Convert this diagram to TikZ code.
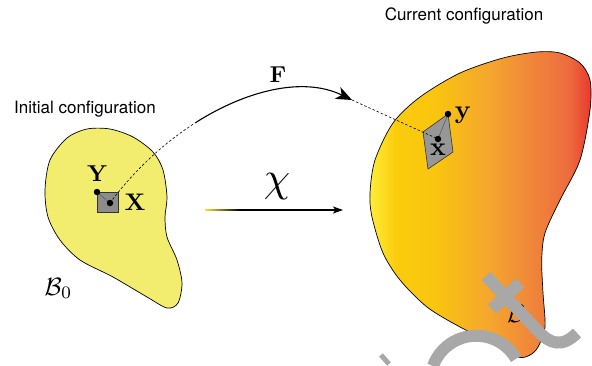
\documentclass[tikz,border=0pt]{standalone}
\usepackage{graphicx}
\usepackage[no-math]{fontspec}
\newfontfamily\helv{TeX Gyre Heros}
\usetikzlibrary{arrows.meta}
\pgfdeclarehorizontalshading{curshade}{100bp}{rgb(0bp)=(1,0.93,0.22); rgb(25bp)=(1,0.93,0.22); rgb(31bp)=(0.98,0.8,0.05); rgb(40bp)=(0.98,0.77,0.06); rgb(52bp)=(0.96,0.65,0.18); rgb(62bp)=(0.94,0.52,0.23); rgb(70bp)=(0.93,0.42,0.24); rgb(75bp)=(0.91,0.22,0.18); rgb(100bp)=(0.91,0.22,0.18)}
\definecolor{bodyA}{RGB}{242,237,110}
\definecolor{elemgray}{RGB}{140,140,140}
\definecolor{wmgray}{RGB}{168,168,168}
\definecolor{chiyellow}{RGB}{245,230,60}
\newcommand{\mysz}[2]{\scalebox{#1}{\fontsize{10}{12}\selectfont #2}}
\begin{document}
\begin{tikzpicture}[x=1pt,y=-1pt,
  outline/.style={draw=black, line width=0.7pt},
  elem/.style={fill=elemgray, draw=black!80, line width=0.6pt},
  dot/.style={circle, fill=black, inner sep=0pt, minimum size=6.5pt},
  lbl/.style={inner sep=0pt, anchor=base},
  conf/.style={font=\helv\fontsize{17}{20}\selectfont, inner sep=0pt, anchor=base},
  dashline/.style={line width=0.6pt, dash pattern=on 2.5pt off 2pt},
  link/.style={line width=0.4pt, draw=black!70},
  wm/.style={draw=wmgray, line width=12pt}]
\useasboundingbox (0,0) rectangle (592,365);

% reference body
\path[outline, fill=bodyA] plot[smooth cycle] coordinates {(45,190) (50,160) (67,138) (87,129) (110,129) (133,137) (153,152) (163,170) (167,197) (165,217) (167,237) (177,260) (182,283) (178,303) (167,308) (147,297) (113,277) (80,260) (60,240) (48,217)};

% current body
\path[outline, shading=curshade] plot[smooth cycle] coordinates {(370,193) (375,160) (393,123) (420,97) (460,73) (503,58) (537,52) (560,53) (580,63) (590,80) (590,110) (580,160) (560,200) (545,233) (541.7,260) (543,293) (545,327) (538,347) (530,355) (518,357) (493,343) (460,327) (427,307) (400,280) (383,253) (372,217)};

% coordinates
\coordinate (Yc) at (97,192);
\coordinate (Xc) at (110,203);
\coordinate (yc) at (448,114);
\coordinate (xc) at (438,139);
\coordinate (Fmid) at (195.3,122.8);
\coordinate (Ftip) at (352,100);
\coordinate (chiA) at (205,210);
\coordinate (chiB) at (240,210);
\coordinate (chiC) at (343,210);

% reference element
\path[elem] (97,192) rectangle (118,212);
\draw[link] (Yc) -- (Xc);

% current element
\path[elem, fill=elemgray!90!white] (448,114) -- (423,132) -- (428,169) -- (453,152) -- cycle;
\draw[link] (xc) -- (yc);

% F map
\draw[dashline] (Xc) .. controls (132,173) and (162,144.1) .. (Fmid);
\draw[line width=1.1pt, -{Stealth[length=16pt,width=13pt,inset=4.5pt]}] (Fmid) .. controls (245.3,90.9) and (302.8,76) .. (Ftip);
\draw[dashline] (Ftip) -- (xc);

% dots
\node[dot] (Yd) at (Yc) {};
\node[dot] (Xd) at (Xc) {};
\node[dot] (yd) at (yc) {};
\node[dot] (xd) at (xc) {};

% chi map
\shade[left color=chiyellow, right color=black] (205,209.4) rectangle (240,210.6);
\draw[line width=1.2pt, -{Stealth[length=10pt,width=7pt,inset=2.5pt]}] (chiB) -- (chiC);

% labels
\node[lbl] (Flbl) at (278,82.5) {\mysz{2.3}{$\mathbf{F}$}};
\node[lbl] (chilbl) at (277,191) {\mysz{4.2}{$\chi$}};
\node[lbl] (Ylbl) at (97.5,181.5) {\mysz{2.3}{$\mathbf{Y}$}};
\node[lbl] (Xlbl) at (135,210) {\mysz{2.4}{$\mathbf{X}$}};
\node[lbl] (ylbl) at (463,118) {\mysz{2.6}{$\mathbf{y}$}};
\node[lbl] (xlbl) at (438,155) {\mysz{2.6}{$\mathbf{x}$}};
\node[lbl] (B0lbl) at (58.5,295) {\mysz{2.5}{$\mathcal{B}_0$}};
\node[lbl] (Blbl) at (516,322) {\mysz{2.5}{$\mathcal{B}$}};
\node[conf] (initlbl) at (85,113.5) {Initial configuration};
\node[conf] (curlbl) at (464,20) {Current configuration};

% overlay marks
\draw[wm] (486,276) -- (538,331) .. controls (550,344) and (562,348) .. (577,333);
\draw[wm] (492,309) -- (520,283);
\draw[wm] (433,366) arc[start angle=200, end angle=330, radius=46];
\draw[draw=wmgray, line width=5pt] (381,355) -- (389,364);
\end{tikzpicture}
\end{document}
